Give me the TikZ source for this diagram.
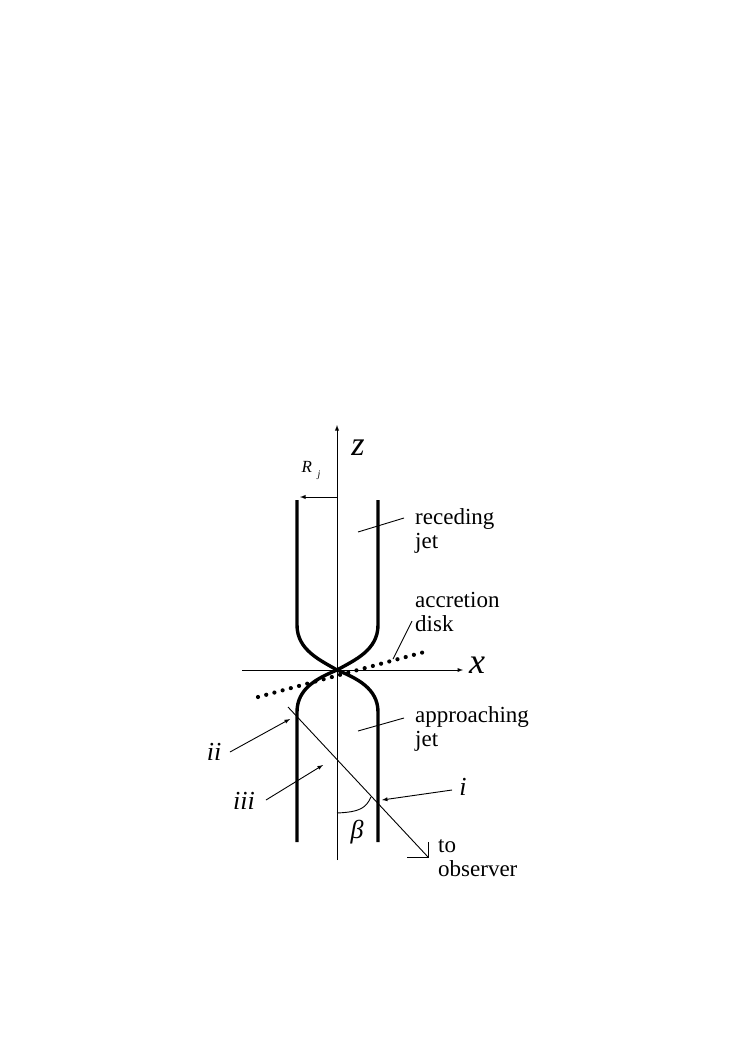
\documentclass[tikz,border=0pt]{standalone}
\usepackage{fontspec}
\setmainfont{Liberation Serif}
\begin{document}
\begin{tikzpicture}[x=1pt,y=-1pt,
  lbl/.style={font=\fontsize{23}{24}\selectfont\rmfamily,inner sep=0pt,anchor=west,align=left},
  ital/.style={font=\fontsize{26}{26}\selectfont\rmfamily\itshape,inner sep=0pt},
  jet/.style={line width=3.4pt},
  thin/.style={line width=0.9pt},
  arr/.style={thin,-latex}]
\useasboundingbox (0,0) rectangle (736,1059);
\coordinate (zb) at (337,860); \coordinate (zt) at (337,425);
\draw[arr] (zb) -- (zt);
\node[ital,font=\fontsize{34}{34}\selectfont\rmfamily\itshape] (zl) at (358,448) {z};
\coordinate (xa) at (242,670); \coordinate (xb) at (463,670);
\draw[arr] (xa) -- (xb);
\node[ital,font=\fontsize{36}{36}\selectfont\rmfamily\itshape] (xl) at (477,665) {x};
\coordinate (ra) at (337,497); \coordinate (rb) at (300,497);
\draw[arr] (ra) -- (rb);
\node[inner sep=0pt,font=\fontsize{17}{17}\selectfont\rmfamily\itshape] (rj) at (311,470) {R\,\,\raisebox{-5pt}{\fontsize{10}{10}\selectfont j}};
\coordinate (c) at (337,670);
% jets
\draw[jet] (297,500) -- (297,625) .. controls (297,650) and (320,660) .. (c);
\draw[jet] (378,500) -- (378,625) .. controls (378,650) and (355,660) .. (c);
\draw[jet] (c) .. controls (318,678) and (297,688) .. (297,712) -- (297,842);
\draw[jet] (c) .. controls (356,678) and (378,688) .. (378,712) -- (378,842);
% disk
\draw[line width=4.2pt,dash pattern=on 0pt off 8.5pt,line cap=round] (258,697) -- (428,651);
% labels
\node[lbl] (rec) at (415,531) {receding\\jet};
\draw[thin] (358,532) -- (404,518);
\node[lbl] (acc) at (415,612) {accretion\\disk};
\draw[thin] (393,659) -- (412,621);
\node[lbl] (app) at (415,729) {approaching\\jet};
\draw[thin] (358,731) -- (404,718);
% observer
\coordinate (o1) at (288,707); \coordinate (o2) at (428,857);
\draw[thin] (o1) -- (o2);
\draw[thin] (428,842) -- (o2) -- (407,857);
\node[lbl] (obs) at (438,858) {to\\observer};
% beta
\draw[thin] (337,813) .. controls (360,812) and (366,808) .. (371,797);
\node[ital] (beta) at (357,832) {β};
% ii, iii, i
\node[ital] (ii) at (214,752) {ii};
\draw[arr] (230,752) -- (290,719);
\node[ital] (iii) at (244,801) {iii};
\draw[arr] (266,800) -- (323,765);
\node[ital] (i) at (463,787) {i};
\draw[arr] (452,790) -- (382,800);
\end{tikzpicture}
\end{document}
